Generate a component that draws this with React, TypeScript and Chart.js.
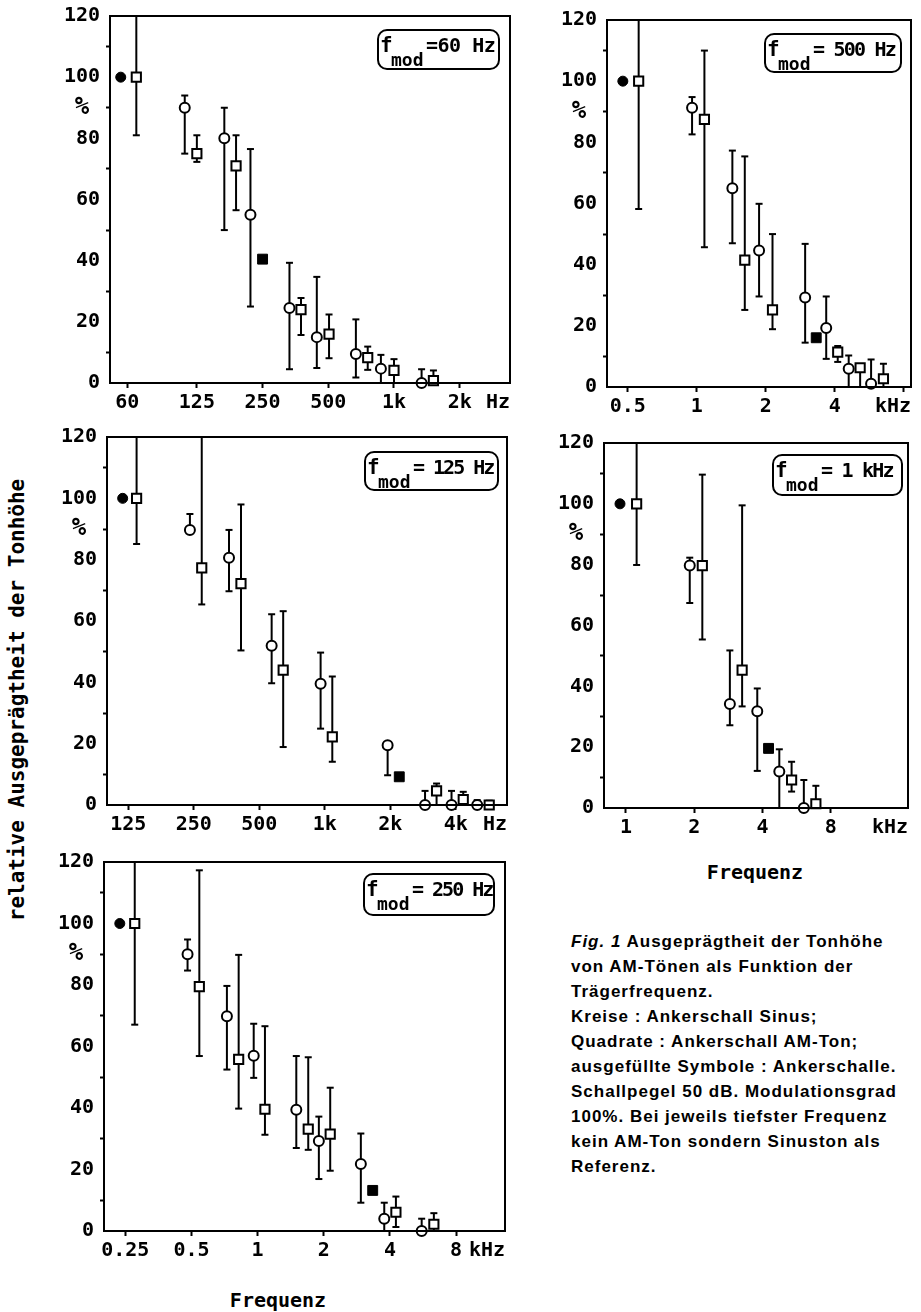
import React, { useEffect, useRef } from 'react';
import { Chart, registerables } from 'chart.js';

Chart.register(...registerables);

const MONO = '"DejaVu Sans Mono", monospace';

// ---------- Data (kinds: C = filled circle, S = filled square, c = open circle, s = open square) ----------
// f_mod = 60 Hz (carrier frequency in Hz)
const p60Freq = [56, 66, 110, 125, 167, 189, 220, 250, 332, 375, 443, 504, 669, 758, 871, 1000, 1338, 1516];
const p60Value = [100, 100, 90, 75, 80, 71, 55, 40.5, 24.5, 24, 15, 16, 9.5, 8.3, 4.7, 4.1, 0, 0.8];
const p60Low = [null, 81, 75, 72.3, 50, 56.5, 25, null, 4.5, 15.7, 4.9, 8.1, 1.8, 4.3, 0, 0, null, null];
const p60High = [null, 130, 94, 81, 90, 81, 76.5, null, 39.3, 27.8, 34.7, 22.4, 20.8, 11.9, 9.2, 7.8, 4.5, 4.1];
const p60Kind = ['C', 's', 'c', 's', 'c', 's', 'c', 'S', 'c', 's', 'c', 's', 'c', 's', 'c', 's', 'c', 's'];
const p60Ticks = [60, 125, 250, 500, 1000, 2000];
const p60TickLabels = ['60', '125', '250', '500', '1k', '2k'];

// f_mod = 500 Hz (carrier frequency in kHz)
const p500Freq = [0.476, 0.558, 0.954, 1.08, 1.43, 1.62, 1.87, 2.14, 2.97, 3.32, 3.67, 4.12, 4.6, 5.16, 5.76, 6.52];
const p500Value = [100, 100, 91.3, 87.5, 65, 41.5, 44.6, 25.2, 29.3, 16.1, 19.3, 11.4, 6, 6.3, 1.1, 2.7];
const p500Low = [null, 58.2, 82.6, 45.7, 47, 25.2, 29.6, 18.9, 14.5, null, 9.2, 8.2, 0, 0, null, 0];
const p500High = [null, 130, 94.8, 110, 77.3, 75.4, 59.9, 50, 46.8, null, 29.6, 13.4, 10.3, null, 9, 7.6];
const p500Kind = ['C', 's', 'c', 's', 'c', 's', 'c', 's', 'c', 'S', 'c', 's', 'c', 's', 'c', 's'];
const p500Ticks = [0.5, 1, 2, 4, 8];
const p500TickLabels = ['0.5', '1', '2', '4', ''];

// f_mod = 125 Hz (carrier frequency in Hz)
const p125Freq = [117.8, 136.5, 240, 272, 363, 412, 570, 644, 957, 1083, 1945, 2200, 2890, 3265, 3825, 4330, 5020, 5700];
const p125Value = [100, 100, 89.7, 77.3, 80.6, 72.2, 51.9, 44, 39.5, 22.2, 19.5, 9.2, 0, 4.6, 0, 1.8, 0, 0];
const p125Low = [null, 85.1, null, 65.4, 69.7, 50.4, 39.7, 18.9, 24.9, 14.1, 9.7, null, null, 0, null, 0, null, null];
const p125High = [null, 130, 94.9, 130, 89.7, 98, 62.2, 63.2, 49.7, 41.9, null, null, 4.6, 7, 4.6, 4.3, 1.6, 1.4];
const p125Kind = ['C', 's', 'c', 's', 'c', 's', 'c', 's', 'c', 's', 'c', 'S', 'c', 's', 'c', 's', 'c', 's'];
const p125Ticks = [125, 250, 500, 1000, 2000, 4000];
const p125TickLabels = ['125', '250', '500', '1k', '2k', '4k'];

// f_mod = 1 kHz (carrier frequency in kHz)
const p1kFreq = [0.941, 1.114, 1.91, 2.17, 2.87, 3.25, 3.79, 4.25, 4.74, 5.37, 6.08, 6.87];
const p1kValue = [100, 100, 79.7, 79.7, 34.2, 45.3, 31.8, 19.6, 12, 9.2, 0, 1.4];
const p1kLow = [null, 79.9, 67.4, 55.4, 27.2, 33.4, 12.2, null, 0, 5.4, null, 0];
const p1kHigh = [null, 130, 82.3, 109.6, 51.8, 99.5, 39.3, null, 19.3, 15.2, 9.2, 7.3];
const p1kKind = ['C', 's', 'c', 's', 'c', 's', 'c', 'S', 'c', 's', 'c', 's'];
const p1kTicks = [1, 2, 4, 8];
const p1kTickLabels = ['1', '2', '4', '8'];

// f_mod = 250 Hz (carrier frequency in kHz)
const p250Freq = [0.236, 0.276, 0.48, 0.543, 0.725, 0.82, 0.96, 1.08, 1.5, 1.7, 1.9, 2.14, 2.95, 3.34, 3.77, 4.26, 5.58, 6.34];
const p250Value = [100, 100, 90, 79.5, 69.8, 55.8, 57, 39.6, 39.4, 33.1, 29.3, 31.5, 21.8, 13.2, 4, 6.1, 0, 2.2];
const p250Low = [null, 67.1, 84.7, 56.9, 52.5, 39.8, 49.8, 31.3, 27, 26.4, 16.9, 19.6, 9.2, null, 0, 1.3, null, 0];
const p250High = [null, 130, 94.8, 117.3, 79.7, 89.8, 67.4, 66.6, 56.9, 56.5, 37.2, 46.6, 31.7, null, 9.2, 11.2, 4, 5.8];
const p250Kind = ['C', 's', 'c', 's', 'c', 's', 'c', 's', 'c', 's', 'c', 's', 'c', 'S', 'c', 's', 'c', 's'];
const p250Ticks = [0.25, 0.5, 1, 2, 4, 8];
const p250TickLabels = ['0.25', '0.5', '1', '2', '4', '8'];

const yTickValues = [0, 20, 40, 60, 80, 100, 120];

const captionLines = [
  'Ausgeprägtheit der Tonhöhe',
  'von AM-Tönen als Funktion der',
  'Trägerfrequenz.',
  'Kreise : Ankerschall Sinus;',
  'Quadrate : Ankerschall AM-Ton;',
  'ausgefüllte Symbole : Ankerschalle.',
  'Schallpegel 50 dB. Modulationsgrad',
  '100%. Bei jeweils tiefster Frequenz',
  'kein AM-Ton sondern Sinuston als',
  'Referenz.',
];

// ---------- Layout ----------
const Y_AXIS_W = 70;
const PAD_TOP = 16;
const PAD_RIGHT = 14;
const X_AXIS_H = 44;

type Box = { left: number; top: number; right: number; bottom: number };
type PanelSpec = {
  freq: number[];
  value: number[];
  low: (number | null)[];
  high: (number | null)[];
  kind: string[];
  xMin: number;
  xMax: number;
  ticks: number[];
  tickLabels: string[];
  unit: string;
  box: Box;
  label: string;
  labelBox: { left: number; top: number; width: number; height: number; spacing: number };
};

const PANELS: PanelSpec[] = [
  {
    freq: p60Freq, value: p60Value, low: p60Low, high: p60High, kind: p60Kind,
    xMin: 50, xMax: 3400, ticks: p60Ticks, tickLabels: p60TickLabels, unit: 'Hz',
    box: { left: 110, top: 14, right: 510, bottom: 383 },
    label: '=60 Hz', labelBox: { left: 377, top: 29, width: 123, height: 41, spacing: -0.5 },
  },
  {
    freq: p500Freq, value: p500Value, low: p500Low, high: p500High, kind: p500Kind,
    xMin: 0.406, xMax: 8.6, ticks: p500Ticks, tickLabels: p500TickLabels, unit: 'kHz',
    box: { left: 607, top: 18, right: 911, bottom: 387 },
    label: '= 500 Hz', labelBox: { left: 764, top: 33, width: 138, height: 40, spacing: -1.8 },
  },
  {
    freq: p125Freq, value: p125Value, low: p125Low, high: p125High, kind: p125Kind,
    xMin: 99.8, xMax: 6880, ticks: p125Ticks, tickLabels: p125TickLabels, unit: 'Hz',
    box: { left: 107, top: 435, right: 507, bottom: 805 },
    label: '= 125 Hz', labelBox: { left: 364, top: 451, width: 135, height: 40, spacing: -2 },
  },
  {
    freq: p1kFreq, value: p1kValue, low: p1kLow, high: p1kHigh, kind: p1kKind,
    xMin: 0.8, xMax: 17.5, ticks: p1kTicks, tickLabels: p1kTickLabels, unit: 'kHz',
    box: { left: 604, top: 441, right: 908, bottom: 808 },
    label: '= 1 kHz', labelBox: { left: 772, top: 454, width: 131, height: 42, spacing: -1.8 },
  },
  {
    freq: p250Freq, value: p250Value, low: p250Low, high: p250High, kind: p250Kind,
    xMin: 0.2, xMax: 13.36, ticks: p250Ticks, tickLabels: p250TickLabels, unit: 'kHz',
    box: { left: 104, top: 860, right: 505, bottom: 1231 },
    label: '= 250 Hz', labelBox: { left: 363, top: 873, width: 132, height: 43, spacing: -2 },
  },
];

const tickFont = { family: MONO, size: 20, weight: 'bold' as const };

function makeOverlay(spec: PanelSpec) {
  return {
    id: 'overlay',
    beforeDatasetsDraw(chart: any) {
      const ctx = chart.ctx;
      const xs = chart.scales.x;
      const ys = chart.scales.y;
      const yMax = ys.max;
      ctx.save();
      ctx.strokeStyle = '#000';
      ctx.lineWidth = 2;
      for (let i = 0; i < spec.freq.length; i++) {
        const px = xs.getPixelForValue(spec.freq[i]);
        const py = ys.getPixelForValue(spec.value[i]);
        const ends = [spec.low[i], spec.high[i]];
        for (const end of ends) {
          if (end === null || end === undefined) continue;
          const clipped = end > yMax;
          const pe = ys.getPixelForValue(Math.min(end, yMax));
          ctx.beginPath();
          ctx.moveTo(px, py);
          ctx.lineTo(px, pe);
          ctx.stroke();
          if (!clipped) {
            ctx.beginPath();
            ctx.moveTo(px - 3.5, pe);
            ctx.lineTo(px + 3.5, pe);
            ctx.stroke();
          }
        }
      }
      ctx.restore();
    },
    afterDraw(chart: any) {
      const ctx = chart.ctx;
      const ca = chart.chartArea;
      const xs = chart.scales.x;
      const ys = chart.scales.y;
      ctx.save();
      ctx.strokeStyle = '#000';
      ctx.lineWidth = 2;
      ctx.strokeRect(ca.left, ca.top, ca.right - ca.left, ca.bottom - ca.top);
      ctx.fillStyle = '#000';
      ctx.font = `bold 20px ${MONO}`;
      // unit label at the end of the x tick row
      ctx.textAlign = 'right';
      ctx.textBaseline = 'middle';
      ctx.fillText(spec.unit, ca.right, xs.top + 8 + 12);
      // percent sign under the 100 label
      const w100 = ctx.measureText('100').width;
      ctx.font = `bold 24px ${MONO}`;
      ctx.textAlign = 'center';
      ctx.fillText('%', ca.left - 10 - w100 / 2, ys.getPixelForValue(90));
      ctx.restore();
    },
  };
}

function buildConfig(spec: PanelSpec): any {
  const pointStyle = spec.kind.map((k) => (k === 'c' || k === 'C' ? 'circle' : 'rect'));
  const pointRadius = spec.kind.map((k) => (k === 'c' ? 5 : k === 's' ? 6.5 : k === 'C' ? 5 : 7));
  const bg = spec.kind.map((k) => (k === 'C' || k === 'S' ? '#000' : '#fff'));
  const bw = spec.kind.map((k) => (k === 'C' || k === 'S' ? 1 : 2));
  return {
    type: 'scatter',
    data: {
      datasets: [
        {
          data: spec.freq.map((f, i) => ({ x: f, y: spec.value[i] })),
          pointStyle,
          pointRadius,
          pointBackgroundColor: bg,
          pointBorderColor: '#000',
          pointBorderWidth: bw,
          showLine: false,
          clip: false,
        },
      ],
    },
    options: {
      responsive: false,
      animation: false,
      devicePixelRatio: 1,
      events: [],
      layout: { padding: { top: PAD_TOP, right: PAD_RIGHT, left: 0, bottom: 0 } },
      plugins: { legend: { display: false }, tooltip: { enabled: false } },
      scales: {
        x: {
          type: 'logarithmic',
          min: spec.xMin,
          max: spec.xMax,
          afterBuildTicks: (s: any) => {
            s.ticks = spec.ticks.map((v) => ({ value: v }));
          },
          afterFit: (s: any) => {
            s.height = X_AXIS_H;
          },
          ticks: {
            autoSkip: false,
            maxRotation: 0,
            minRotation: 0,
            padding: 3,
            font: tickFont,
            color: '#000',
            callback: (_v: any, i: number) => spec.tickLabels[i] ?? '',
          },
          grid: { drawOnChartArea: false, drawTicks: true, tickLength: 5, tickWidth: 2, tickColor: '#000' },
          border: { display: true, color: '#000', width: 2 },
        },
        y: {
          type: 'linear',
          min: 0,
          max: 120,
          afterFit: (s: any) => {
            s.width = Y_AXIS_W;
          },
          ticks: {
            stepSize: 10,
            autoSkip: false,
            padding: 6,
            font: tickFont,
            color: '#000',
            callback: (v: any) => (yTickValues.includes(Number(v)) ? String(v) : ''),
          },
          grid: {
            drawOnChartArea: false,
            drawTicks: true,
            tickLength: 4,
            tickWidth: 2,
            tickColor: (c: any) => (c.tick && yTickValues.includes(c.tick.value) ? 'rgba(0,0,0,0)' : '#000'),
          },
          border: { display: true, color: '#000', width: 2 },
        },
      },
    },
    plugins: [makeOverlay(spec)],
  };
}

function Panel({ spec }: { spec: PanelSpec }) {
  const ref = useRef<HTMLCanvasElement>(null);
  const { left, top, right, bottom } = spec.box;
  const w = right - left + Y_AXIS_W + PAD_RIGHT;
  const h = bottom - top + PAD_TOP + X_AXIS_H;
  useEffect(() => {
    if (!ref.current) return;
    const chart = new Chart(ref.current, buildConfig(spec));
    return () => chart.destroy();
  }, [spec]);
  return (
    <canvas
      ref={ref}
      width={w}
      height={h}
      style={{ position: 'absolute', left: left - Y_AXIS_W, top: top - PAD_TOP, width: w, height: h }}
    />
  );
}

function LabelBox({ spec }: { spec: PanelSpec }) {
  const b = spec.labelBox;
  return (
    <div
      style={{
        position: 'absolute',
        left: b.left,
        top: b.top,
        width: b.width,
        height: b.height,
        border: '2px solid #000',
        borderRadius: 10,
        boxSizing: 'border-box',
        fontFamily: MONO,
        fontWeight: 'bold',
        color: '#000',
      }}
    >
      <span style={{ position: 'absolute', left: 1, top: 4, fontSize: 21, lineHeight: '21px' }}>f</span>
      <span style={{ position: 'absolute', left: 12, top: 20, fontSize: 18, lineHeight: '18px' }}>mod</span>
      <span
        style={{
          position: 'absolute',
          left: 47,
          top: 4,
          fontSize: 20,
          lineHeight: '20px',
          letterSpacing: b.spacing,
          whiteSpace: 'nowrap',
        }}
      >
        {spec.label}
      </span>
    </div>
  );
}

const textStyle: React.CSSProperties = {
  position: 'absolute',
  fontFamily: MONO,
  fontWeight: 'bold',
  fontSize: 20,
  color: '#000',
  whiteSpace: 'nowrap',
};

export default function App() {
  return (
    <div
      style={{
        position: 'absolute',
        left: 0,
        top: 0,
        width: 921,
        height: 1312,
        background: '#fff',
        overflow: 'hidden',
      }}
    >
      {PANELS.map((p, i) => (
        <Panel key={i} spec={p} />
      ))}
      {PANELS.map((p, i) => (
        <LabelBox key={'lb' + i} spec={p} />
      ))}
      <div
        style={{
          ...textStyle,
          fontSize: 21,
          left: 17,
          top: 700,
          transform: 'translate(-50%, -50%) rotate(-90deg)',
        }}
      >
        relative Ausgeprägtheit der Tonhöhe
      </div>
      <div style={{ ...textStyle, left: 755, top: 872, transform: 'translate(-50%, -50%)' }}>Frequenz</div>
      <div style={{ ...textStyle, left: 278, top: 1300, transform: 'translate(-50%, -50%)' }}>Frequenz</div>
      <div
        style={{
          position: 'absolute',
          left: 571,
          top: 929,
          fontFamily: '"Liberation Sans", Arial, sans-serif',
          fontWeight: 'bold',
          fontSize: 17,
          lineHeight: '25px',
          letterSpacing: 1.0,
          color: '#000',
          whiteSpace: 'nowrap',
        }}
      >
        {captionLines.map((line, i) => (
          <div key={i}>
            {i === 0 ? (
              <>
                <i>Fig. 1</i>{' '}
              </>
            ) : null}
            {line}
          </div>
        ))}
      </div>
    </div>
  );
}
